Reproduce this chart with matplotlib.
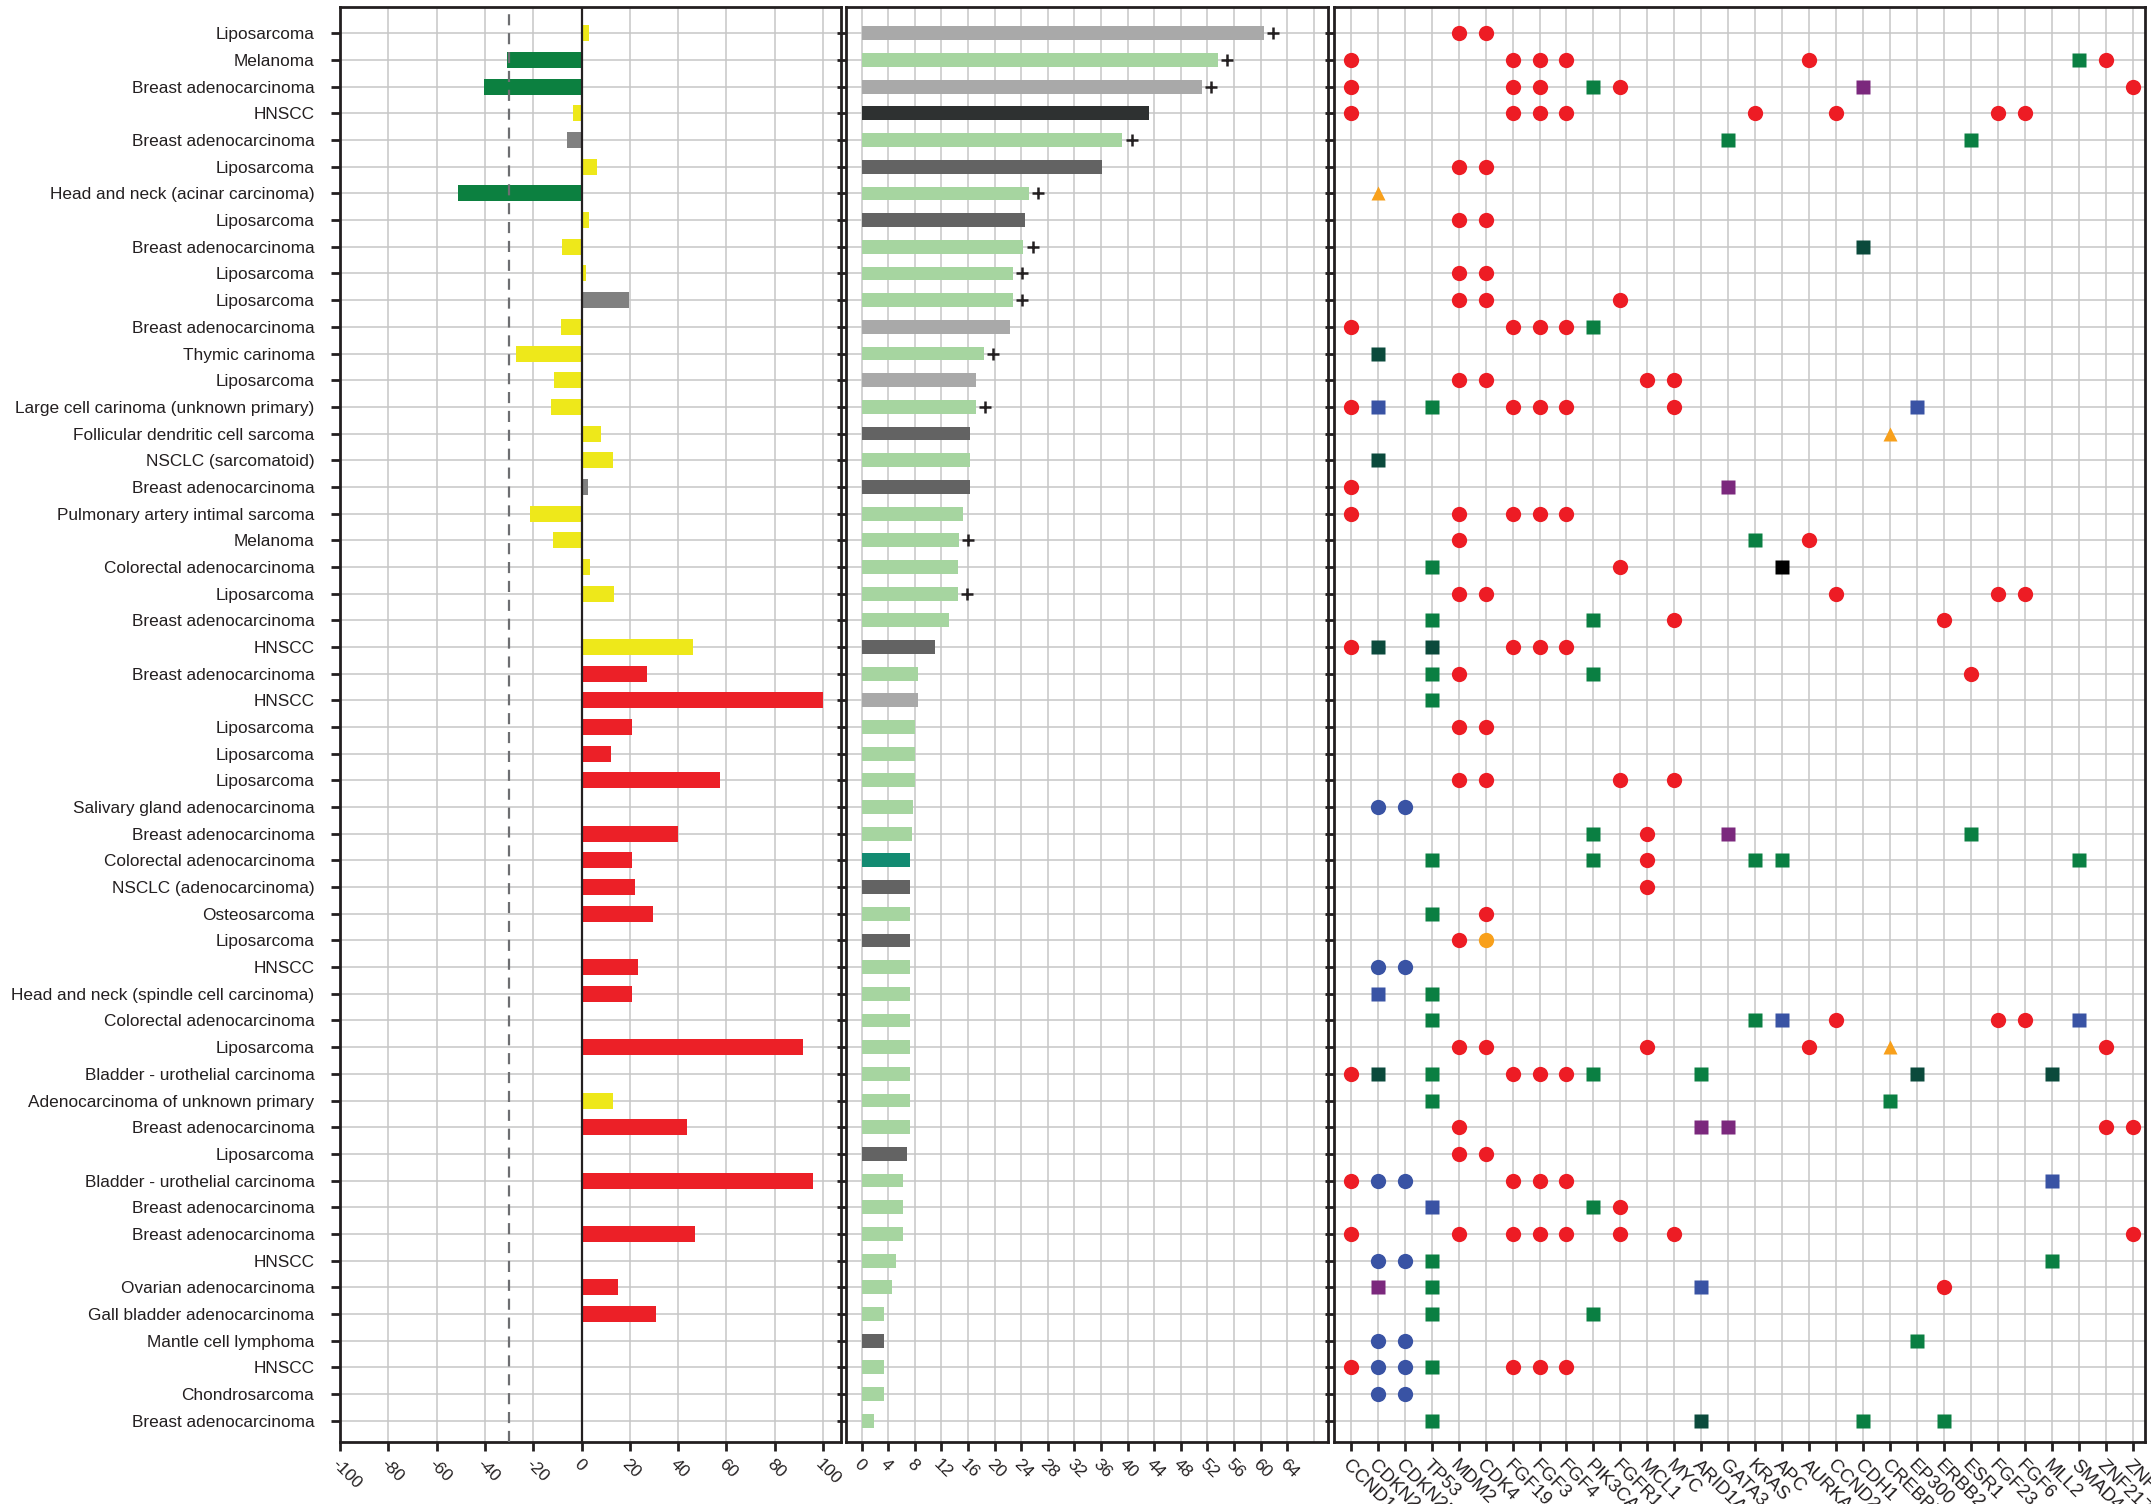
import numpy as np
import matplotlib
matplotlib.use("Agg")
import matplotlib.pyplot as plt

plt.rcParams['font.family'] = ['Liberation Sans', 'DejaVu Sans']
plt.rcParams['axes.unicode_minus'] = False

# ---- data -------------------------------------------------------------
tumours = [
    "Liposarcoma", "Melanoma", "Breast adenocarcinoma", "HNSCC",
    "Breast adenocarcinoma", "Liposarcoma", "Head and neck (acinar carcinoma)",
    "Liposarcoma", "Breast adenocarcinoma", "Liposarcoma", "Liposarcoma",
    "Breast adenocarcinoma", "Thymic carinoma", "Liposarcoma",
    "Large cell carinoma (unknown primary)", "Follicular dendritic cell sarcoma",
    "NSCLC (sarcomatoid)", "Breast adenocarcinoma",
    "Pulmonary artery intimal sarcoma", "Melanoma", "Colorectal adenocarcinoma",
    "Liposarcoma", "Breast adenocarcinoma", "HNSCC", "Breast adenocarcinoma",
    "HNSCC", "Liposarcoma", "Liposarcoma", "Liposarcoma",
    "Salivary gland adenocarcinoma", "Breast adenocarcinoma",
    "Colorectal adenocarcinoma", "NSCLC (adenocarcinoma)", "Osteosarcoma",
    "Liposarcoma", "HNSCC", "Head and neck (spindle cell carcinoma)",
    "Colorectal adenocarcinoma", "Liposarcoma", "Bladder - urothelial carcinoma",
    "Adenocarcinoma of unknown primary", "Breast adenocarcinoma", "Liposarcoma",
    "Bladder - urothelial carcinoma", "Breast adenocarcinoma",
    "Breast adenocarcinoma", "HNSCC", "Ovarian adenocarcinoma",
    "Gall bladder adenocarcinoma", "Mantle cell lymphoma", "HNSCC",
    "Chondrosarcoma", "Breast adenocarcinoma",
]

# best % change from baseline (None = not evaluable)
best_change = [
    3, -31, -40.5, -3.5, -6, 6.5, -51, 3, -8, 2,
    19.5, -8.5, -27, -11.5, -12.5, 8, 13, 2.5, -21.5, -12,
    3.5, 13.5, None, 46, 27, 100, 21, 12, 57.5, None,
    40, 21, 22, 29.5, None, 23.5, 21, None, 91.5, None,
    13, 43.5, None, 96, None, 47, None, 15, 31, None,
    None, None, None,
]
response = [
    "SD", "PR", "PR", "SD", "NE", "SD", "PR", "SD", "SD", "SD",
    "NE", "SD", "SD", "SD", "SD", "SD", "SD", "NE", "SD", "SD",
    "SD", "SD", "SD", "SD", "PD", "PD", "PD", "PD", "PD", "PD",
    "PD", "PD", "PD", "PD", "PD", "PD", "PD", "PD", "PD", "PD",
    "SD", "PD", "PD", "PD", "PD", "PD", "PD", "PD", "PD", "PD",
    "PD", "PD", "PD",
]

# weeks on treatment
weeks = [
    60.5, 53.6, 51.2, 43.2, 39.2, 36.2, 25.1, 24.5, 24.3, 22.7,
    22.7, 22.3, 18.4, 17.2, 17.2, 16.3, 16.3, 16.3, 15.2, 14.6,
    14.5, 14.5, 13.1, 11.0, 8.5, 8.5, 8.0, 8.0, 8.0, 7.75,
    7.6, 7.3, 7.3, 7.3, 7.3, 7.3, 7.3, 7.3, 7.3, 7.3,
    7.3, 7.3, 6.85, 6.25, 6.25, 6.25, 5.2, 4.6, 3.4, 3.4,
    3.4, 3.4, 1.9,
]
dose_group = [
    "B", "A", "B", "E", "A", "D", "A", "D", "A", "A",
    "A", "B", "A", "B", "A", "D", "A", "D", "A", "A",
    "A", "A", "A", "D", "A", "B", "A", "A", "A", "A",
    "A", "C", "D", "A", "D", "A", "A", "A", "A", "A",
    "A", "A", "D", "A", "A", "A", "A", "A", "A", "D",
    "A", "A", "A",
]
ongoing = [1, 2, 3, 5, 7, 9, 10, 11, 13, 15, 20, 22]  # 1-based rows

genes = [
    "CCND1", "CDKN2A", "CDKN2B", "TP53", "MDM2", "CDK4", "FGF19", "FGF3",
    "FGF4", "PIK3CA", "FGFR1", "MCL1", "MYC", "ARID1A", "GATA3", "KRAS",
    "APC", "AURKA", "CCND2", "CDH1", "CREBBP", "EP300", "ERBB2", "ESR1",
    "FGF23", "FGF6", "MLL2", "SMAD4", "ZNF217", "ZNF703",
]
# A amplification, L loss, M mutation, T truncation, S splice, F frameshift,
# X other, R rearrangement, G gain
alterations = [
    "MDM2:A CDK4:A",
    "CCND1:A FGF19:A FGF3:A FGF4:A AURKA:A SMAD4:M ZNF217:A",
    "CCND1:A FGF19:A FGF3:A PIK3CA:M FGFR1:A CDH1:F ZNF703:A",
    "CCND1:A FGF19:A FGF3:A FGF4:A KRAS:A CCND2:A FGF23:A FGF6:A",
    "GATA3:M ESR1:M",
    "MDM2:A CDK4:A",
    "CDKN2A:R",
    "MDM2:A CDK4:A",
    "CDH1:T",
    "MDM2:A CDK4:A",
    "MDM2:A CDK4:A FGFR1:A",
    "CCND1:A FGF19:A FGF3:A FGF4:A PIK3CA:M",
    "CDKN2A:T",
    "MDM2:A CDK4:A MCL1:A MYC:A",
    "CCND1:A CDKN2A:S TP53:M FGF19:A FGF3:A FGF4:A MYC:A EP300:S",
    "CREBBP:R",
    "CDKN2A:T",
    "CCND1:A GATA3:F",
    "CCND1:A MDM2:A FGF19:A FGF3:A FGF4:A",
    "MDM2:A KRAS:M AURKA:A",
    "TP53:M FGFR1:A APC:X",
    "MDM2:A CDK4:A CCND2:A FGF23:A FGF6:A",
    "TP53:M PIK3CA:M MYC:A ERBB2:A",
    "CCND1:A CDKN2A:T TP53:T FGF19:A FGF3:A FGF4:A",
    "TP53:M MDM2:A PIK3CA:M ESR1:A",
    "TP53:M",
    "MDM2:A CDK4:A",
    "",
    "MDM2:A CDK4:A FGFR1:A MYC:A",
    "CDKN2A:L CDKN2B:L",
    "PIK3CA:M MCL1:A GATA3:F ESR1:M",
    "TP53:M PIK3CA:M MCL1:A KRAS:M APC:M SMAD4:M",
    "MCL1:A",
    "TP53:M CDK4:A",
    "MDM2:A CDK4:G",
    "CDKN2A:L CDKN2B:L",
    "CDKN2A:S TP53:M",
    "TP53:M KRAS:M APC:S CCND2:A FGF23:A FGF6:A SMAD4:S",
    "MDM2:A CDK4:A MCL1:A AURKA:A CREBBP:R ZNF217:A",
    "CCND1:A CDKN2A:T TP53:M FGF19:A FGF3:A FGF4:A PIK3CA:M ARID1A:M EP300:T MLL2:T",
    "TP53:M CREBBP:M",
    "MDM2:A ARID1A:F GATA3:F ZNF217:A ZNF703:A",
    "MDM2:A CDK4:A",
    "CCND1:A CDKN2A:L CDKN2B:L FGF19:A FGF3:A FGF4:A MLL2:S",
    "TP53:S PIK3CA:M FGFR1:A",
    "CCND1:A MDM2:A FGF19:A FGF3:A FGF4:A FGFR1:A MYC:A ZNF703:A",
    "CDKN2A:L CDKN2B:L TP53:M MLL2:M",
    "CDKN2A:F TP53:M ARID1A:S ERBB2:A",
    "TP53:M PIK3CA:M",
    "CDKN2A:L CDKN2B:L EP300:M",
    "CCND1:A CDKN2A:L CDKN2B:L TP53:M FGF19:A FGF3:A FGF4:A",
    "CDKN2A:L CDKN2B:L",
    "TP53:M ARID1A:T CDH1:M ERBB2:M",
]

# ---- styling ----------------------------------------------------------
INK = '#231f20'
GRID = '#c6c6c6'
resp_colors = {"PR": '#0c8040', "SD": '#eee81a', "PD": '#ec2027', "NE": '#808080'}
dose_colors = {"A": '#a6d5a0', "B": '#a9a9a9', "C": '#138b72', "D": '#636363', "E": '#2e3131'}
marker_style = {
    "A": ('o', '#ed1c24', 11.0), "L": ('o', '#3953a4', 11.0),
    "M": ('s', '#0a7f42', 10.2), "T": ('s', '#0b4a3c', 10.2),
    "S": ('s', '#3953a4', 10.2), "F": ('s', '#7b287d', 10.2),
    "X": ('s', '#000000', 10.2), "R": ('^', '#f8a01b', 10.0),
    "G": ('o', '#f8a01b', 11.0),
}

W, H = 2151, 1504
fig = plt.figure(figsize=(W / 100, H / 100), dpi=100)
fig.patch.set_facecolor('white')


def px_axes(x0, x1, y0=6.7, y1=1442):
    return fig.add_axes([x0 / W, 1 - y1 / H, (x1 - x0) / W, (y1 - y0) / H])


def style(ax):
    for s in ax.spines.values():
        s.set_linewidth(2.0)
        s.set_color(INK)
    ax.tick_params(direction='out', length=6.5, width=2.0, color=INK,
                   labelcolor=INK, labelsize=12.4)
    ax.grid(True, color=GRID, lw=1.1)
    ax.set_axisbelow(True)
    n = len(tumours)
    ax.set_ylim(n - 0.2, -1)
    ax.set_yticks(range(n))


def rotate_labels(ax):
    for t in ax.get_xticklabels():
        t.set_rotation(-45)
        t.set_ha('left')
        t.set_va('top')
        t.set_rotation_mode('anchor')


rows = np.arange(len(tumours))

# ---- left: best change -------------------------------------------------
ax1 = px_axes(340, 841)
style(ax1)
idx = [i for i, v in enumerate(best_change) if v is not None]
ax1.barh([rows[i] for i in idx], [best_change[i] for i in idx], height=0.6,
         color=[resp_colors[response[i]] for i in idx], zorder=2)
ax1.axvline(0, color=INK, lw=1.6, zorder=3)
ax1.axvline(-30, color='#6d6e71', lw=1.6, ls=(0, (5, 3.5)), zorder=3)
ax1.set_xlim(-100, 107.4)
ax1.set_xticks(range(-100, 101, 20))
ax1.set_yticklabels(tumours)
ax1.tick_params(axis='y', pad=12)
ax1.tick_params(axis='x', pad=4)
rotate_labels(ax1)

# ---- middle: weeks on treatment ---------------------------------------
ax2 = px_axes(846, 1328)
style(ax2)
ax2.barh(rows, weeks, height=0.52,
         color=[dose_colors[g] for g in dose_group], zorder=2)
for r in ongoing:
    ax2.plot(weeks[r - 1] + 1.4, r - 1, marker='+', ms=8, mew=1.8,
             color=INK, zorder=3)
ax2.set_xlim(-2.36, 70.15)
ax2.set_xticks(range(0, 65, 4))
ax2.axvline(68, color=GRID, lw=1.1, zorder=0)
ax2.set_yticklabels([])
ax2.tick_params(axis='x', pad=4)
rotate_labels(ax2)

# ---- right: alterations -----------------------------------------------
ax3 = px_axes(1334, 2145)
style(ax3)
for r, entry in enumerate(alterations):
    for token in entry.split():
        gene, code = token.split(':')
        mk, col, ms = marker_style[code]
        ax3.plot(genes.index(gene), r, ls='none', marker=mk, ms=ms,
                 color=col, mec='none', zorder=3)
ax3.set_xlim(-0.62, len(genes) - 0.55)
ax3.set_xticks(range(len(genes)))
ax3.set_xticklabels(genes)
ax3.set_yticklabels([])
ax3.tick_params(axis='x', pad=4, labelsize=13.5)
rotate_labels(ax3)

fig.savefig('out.png', dpi=100, facecolor='white')
